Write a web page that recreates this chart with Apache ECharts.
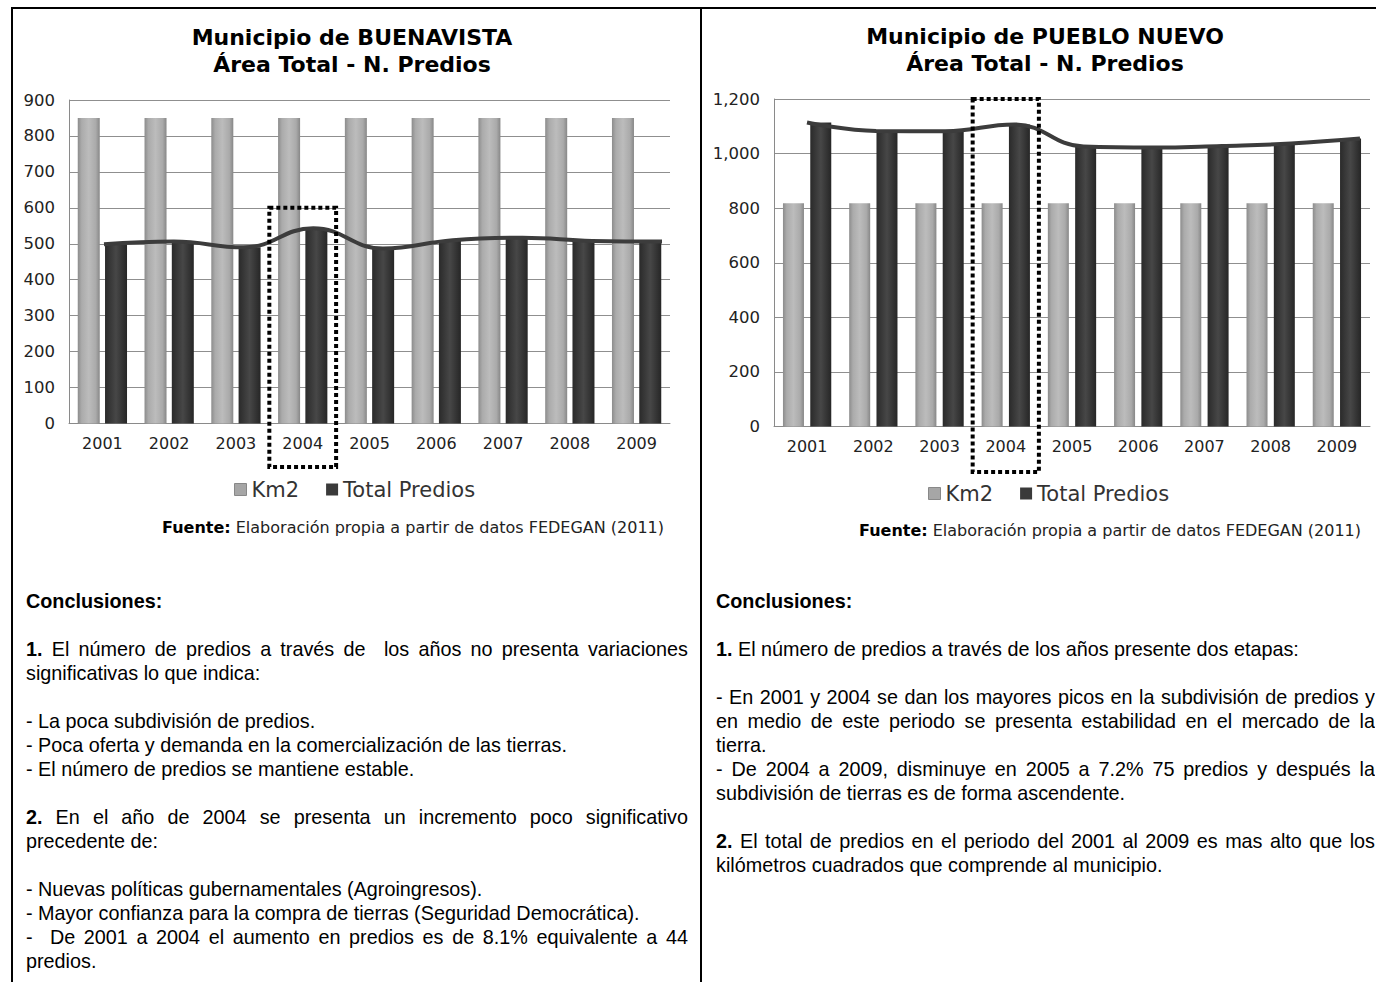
<!DOCTYPE html>
<html>
<head>
<meta charset="utf-8">
<script src="https://cdn.jsdelivr.net/npm/echarts@6/dist/echarts.min.js"></script>
<style>
  html, body { margin: 0; padding: 0; background: #fff; }
  #page { position: relative; width: 1376px; height: 982px; overflow: hidden; background: #fff; }
  #chart { position: absolute; left: 0; top: 0; width: 1376px; height: 982px; }
  .frame { position: absolute; background: #000; }
  .txt { position: absolute; font-family: "Liberation Sans", Arial, sans-serif; font-size: 19.8px; line-height: 24px; color: #000; }
  .txt div { height: 24px; white-space: nowrap; }
  .txt div.j { text-align: justify; text-align-last: justify; white-space: normal; overflow: hidden; }
  .txt b { font-weight: bold; }
</style>
</head>
<body>
<div id="page">
  <div id="chart"></div>
  <div class="frame" style="left:11px; top:7px; width:2px; height:975px;"></div>
  <div class="frame" style="left:11px; top:7px; width:1365px; height:2px;"></div>
  <div class="frame" style="left:700px; top:7px; width:2px; height:975px;"></div>

  <div class="txt" style="left:26px; top:589px; width:662px;">
    <div><b>Conclusiones:</b></div>
    <div></div>
    <div class="j"><b>1.</b> El número de predios a través de &nbsp;los años no presenta variaciones</div>
    <div>significativas lo que indica:</div>
    <div></div>
    <div>- La poca subdivisión de predios.</div>
    <div>- Poca oferta y demanda en la comercialización de las tierras.</div>
    <div>- El número de predios se mantiene estable.</div>
    <div></div>
    <div class="j"><b>2.</b> En el año de 2004 se presenta un incremento poco significativo</div>
    <div>precedente de:</div>
    <div></div>
    <div>- Nuevas políticas gubernamentales (Agroingresos).</div>
    <div>- Mayor confianza para la compra de tierras (Seguridad Democrática).</div>
    <div class="j">- &nbsp;De 2001 a 2004 el aumento en predios es de 8.1% equivalente a 44</div>
    <div>predios.</div>
  </div>

  <div class="txt" style="left:716px; top:589px; width:659px;">
    <div><b>Conclusiones:</b></div>
    <div></div>
    <div><b>1.</b> El número de predios a través de los años presente dos etapas:</div>
    <div></div>
    <div class="j">- En 2001 y 2004 se dan los mayores picos en la subdivisión de predios y</div>
    <div class="j">en medio de este periodo se presenta estabilidad en el mercado de la</div>
    <div>tierra.</div>
    <div class="j">- De 2004 a 2009, disminuye en 2005 a 7.2% 75 predios y después la</div>
    <div>subdivisión de tierras es de forma ascendente.</div>
    <div></div>
    <div class="j"><b>2.</b> El total de predios en el periodo del 2001 al 2009 es mas alto que los</div>
    <div>kilómetros cuadrados que comprende al municipio.</div>
  </div>
</div>
<script>
// ---- data ----
const years = ['2001', '2002', '2003', '2004', '2005', '2006', '2007', '2008', '2009'];
const buenavistaKm2 = [850, 850, 850, 850, 850, 850, 850, 850, 850];
const buenavistaPredios = [499, 506, 490, 543, 487, 510, 517, 508, 506];
const puebloKm2 = [818, 818, 818, 818, 818, 818, 818, 818, 818];
const puebloPredios = [1114, 1083, 1082, 1107, 1026, 1022, 1028, 1037, 1055];
const buenavistaTicks = { min: 0, max: 900, interval: 100 };
const puebloTicks = { min: 0, max: 1200, interval: 200 };
const highlightYear = '2004';

const FONT = 'DejaVu Sans, Verdana, sans-serif';

const lightBar = new echarts.graphic.LinearGradient(0, 0, 1, 0, [
  { offset: 0, color: '#8c8c8c' },
  { offset: 0.18, color: '#ababab' },
  { offset: 0.5, color: '#bcbcbc' },
  { offset: 0.82, color: '#aaaaaa' },
  { offset: 1, color: '#878787' }
]);
const darkBar = new echarts.graphic.LinearGradient(0, 0, 1, 0, [
  { offset: 0, color: '#2a2a2a' },
  { offset: 0.5, color: '#474747' },
  { offset: 1, color: '#262626' }
]);

function thousands(v) { return String(v).replace(/\B(?=(\d{3})+(?!\d))/g, ','); }

const chart = echarts.init(document.getElementById('chart'), null, { renderer: 'svg' });

const grids = [
  { left: 69, top: 100, width: 601, height: 323.5 },
  { left: 774, top: 99, width: 596, height: 327.5 },
  { left: 104, top: 100, width: 558, height: 323.5 },
  { left: 807, top: 99, width: 553, height: 327.5 }
];

function catAxis(gi) {
  return {
    type: 'category', gridIndex: gi, data: years,
    axisLine: { show: true, lineStyle: { color: '#8a8a8a', width: 1 } },
    axisTick: { show: false },
    axisLabel: { color: '#222', fontFamily: FONT, fontSize: 16, margin: 12 }
  };
}
function valAxis(gi, t) {
  return {
    type: 'value', gridIndex: gi, min: t.min, max: t.max, interval: t.interval,
    axisLine: { show: true, lineStyle: { color: '#8a8a8a', width: 1 } },
    axisTick: { show: false },
    splitLine: { show: true, lineStyle: { color: '#8f8f8f', width: 1 } },
    axisLabel: { color: '#222', fontFamily: FONT, fontSize: 16.5, margin: 14, formatter: thousands }
  };
}
function hiddenCat(gi) {
  return { type: 'category', gridIndex: gi, data: years, boundaryGap: false, show: false };
}
function hiddenVal(gi, t) {
  return { type: 'value', gridIndex: gi, min: t.min, max: t.max, show: false, splitLine: { show: false } };
}

const option = {
  animation: false,
  backgroundColor: 'transparent',
  grid: grids,
  xAxis: [catAxis(0), catAxis(1), hiddenCat(2), hiddenCat(3)],
  yAxis: [valAxis(0, buenavistaTicks), valAxis(1, puebloTicks), hiddenVal(2, buenavistaTicks), hiddenVal(3, puebloTicks)],
  legend: [
    {
      left: 229, top: 474, itemWidth: 12, itemHeight: 12, itemGap: 27,
      textStyle: { fontFamily: FONT, fontSize: 21, color: '#333' },
      data: [
        { name: 'Km2', icon: 'rect', itemStyle: { color: '#a6a6a6', borderColor: '#888', borderWidth: 1 } },
        { name: 'Total Predios', icon: 'rect', itemStyle: { color: '#3a3a3a' } }
      ]
    },
    {
      left: 923, top: 478, itemWidth: 12, itemHeight: 12, itemGap: 27,
      textStyle: { fontFamily: FONT, fontSize: 21, color: '#333' },
      data: [
        { name: 'Km2', icon: 'rect', itemStyle: { color: '#a6a6a6', borderColor: '#888', borderWidth: 1 } },
        { name: 'Total Predios', icon: 'rect', itemStyle: { color: '#3a3a3a' } }
      ]
    }
  ],
  series: [
    { name: 'Km2', type: 'bar', xAxisIndex: 0, yAxisIndex: 0, data: buenavistaKm2, barWidth: 22, barGap: '24%',
      itemStyle: { color: lightBar } },
    { name: 'Total Predios', type: 'bar', xAxisIndex: 0, yAxisIndex: 0, data: buenavistaPredios, barWidth: 22, barGap: '24%',
      itemStyle: { color: darkBar } },
    { name: 'Tendencia Buenavista', type: 'line', xAxisIndex: 2, yAxisIndex: 2, data: buenavistaPredios,
      smooth: 0.45, symbol: 'none', z: 5, lineStyle: { color: '#3c3c3c', width: 4 } },
    { name: 'Km2', type: 'bar', xAxisIndex: 1, yAxisIndex: 1, data: puebloKm2, barWidth: 21, barGap: '30%',
      itemStyle: { color: lightBar } },
    { name: 'Total Predios', type: 'bar', xAxisIndex: 1, yAxisIndex: 1, data: puebloPredios, barWidth: 21, barGap: '30%',
      itemStyle: { color: darkBar } },
    { name: 'Tendencia Pueblo Nuevo', type: 'line', xAxisIndex: 3, yAxisIndex: 3, data: puebloPredios,
      smooth: 0.45, symbol: 'none', z: 5, lineStyle: { color: '#3c3c3c', width: 4 } }
  ]
};
chart.setOption(option);

// annotations: titles, source lines, dotted highlight boxes
function highlightBox(gi, topValue, bottomPx) {
  const cx = chart.convertToPixel({ xAxisIndex: gi }, highlightYear);
  const band = grids[gi].width / years.length;
  const top = chart.convertToPixel({ yAxisIndex: gi }, topValue);
  return {
    type: 'rect', z: 100,
    shape: { x: cx - band / 2, y: top, width: band, height: bottomPx - top },
    style: { fill: 'none', stroke: '#000', lineWidth: 4, lineDash: [4, 3] }
  };
}
function titleText(x, y, text) {
  return { type: 'text', x: x, y: y, style: { text: text, fill: '#000', font: 'bold 22px ' + FONT, align: 'center', verticalAlign: 'middle' } };
}
function sourceText(x, y) {
  return {
    type: 'text', x: x, y: y,
    style: {
      text: '{b|Fuente:} Elaboración propia a partir de datos FEDEGAN (2011)',
      fill: '#222', font: '16px ' + FONT, verticalAlign: 'middle',
      rich: { b: { fontWeight: 'bold', fontFamily: FONT, fontSize: 16, fill: '#000' } }
    }
  };
}
chart.setOption({
  graphic: [
    titleText(352, 37, 'Municipio de BUENAVISTA'),
    titleText(352, 64, 'Área Total - N. Predios'),
    titleText(1045, 36, 'Municipio de PUEBLO NUEVO'),
    titleText(1045, 63, 'Área Total - N. Predios'),
    sourceText(162, 527),
    sourceText(859, 530),
    highlightBox(0, 600, 467),
    highlightBox(1, 1200, 472)
  ]
});
</script>
</body>
</html>
